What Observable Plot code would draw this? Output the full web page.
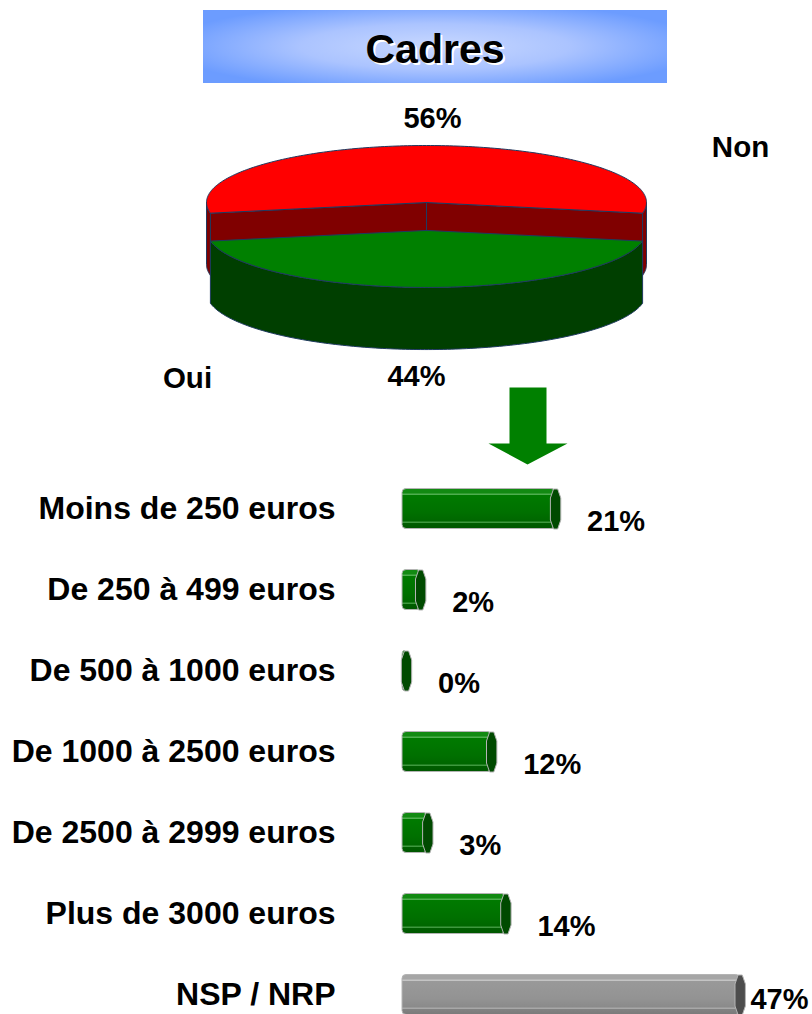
<!DOCTYPE html>
<html>
<head>
<meta charset="utf-8">
<script src="https://cdn.jsdelivr.net/npm/d3@7"></script>
<script src="https://cdn.jsdelivr.net/npm/@observablehq/plot@0.6"></script>
<style>
  body { margin: 0; background: #fff; font-family: "Liberation Sans", Arial, sans-serif; }
  #wrap { width: 812px; position: relative; }
  #titlebar { height: 90px; position: relative; }
  #titlebox {
    position: absolute; left: 203px; top: 10px; width: 464px; height: 73px;
    box-sizing: border-box; padding-top: 6px;
    background:
      radial-gradient(ellipse 58% 62% at 50% 50%, rgba(200,216,255,1) 0%, rgba(178,200,255,0.9) 50%, rgba(110,157,255,0) 100%),
      #6c9cff;
    display: flex; align-items: center; justify-content: center;
    font-weight: bold; font-size: 41px; color: #000;
    text-shadow: 2px 2px 0 #fff;
  }
  svg { display: block; }
</style>
</head>
<body>
<div id="wrap">
  <div id="titlebar"><div id="titlebox"></div></div>
  <div id="pie"></div>
  <div id="bars"></div>
</div>
<script>
// ---------------- data ----------------
const title = "Cadres";
const pieLabels = ["Non", "Oui"];
const pieShares = [56, 44];
const categories = [
  "Moins de 250 euros",
  "De 250 à 499 euros",
  "De 500 à 1000 euros",
  "De 1000 à 2500 euros",
  "De 2500 à 2999 euros",
  "Plus de 3000 euros",
  "NSP / NRP"
];
const values = [21, 2, 0, 12, 3, 14, 47];

document.getElementById("titlebox").textContent = title;

const FONT = '"Liberation Sans", Arial, sans-serif';

// ---------------- 3D pie ----------------
const T = 1.09;   // thickness (in units of the vertical radius)
const E = 0.49;   // explode offset of the front slice
const rad = a => a * Math.PI / 180;
const P = (a, dz) => ({x: Math.cos(rad(a)), y: -Math.sin(rad(a)) + dz});
function arc(a0, a1, dz) {
  const pts = [];
  const n = Math.max(1, Math.ceil(Math.abs(a1 - a0)));
  for (let i = 0; i <= n; i++) pts.push(P(a0 + (a1 - a0) * i / n, dz));
  return pts;
}
const total = d3.sum(pieShares);
const ouiSpan = pieShares[1] / total * 360;
const gStart = 270 - ouiSpan / 2, gEnd = 270 + ouiSpan / 2;
const nonMid = (gEnd + gStart + 360) / 2, ouiMid = 270;

const close = pts => [...pts, pts[0]];
const redRimL = close([...arc(180, gStart, 0), ...arc(gStart, 180, T)]);
const redRimR = close([...arc(gEnd, 360, 0), ...arc(360, gEnd, T)]);
const redCutA = close([{x: 0, y: 0}, P(gEnd, 0), P(gEnd, T), {x: 0, y: T}]);
const redCutB = close([{x: 0, y: 0}, P(gStart, 0), P(gStart, T), {x: 0, y: T}]);
const redTop = close([{x: 0, y: 0}, ...arc(gEnd, gStart + 360, 0)]);
const greenRim = close([...arc(gStart, gEnd, E), ...arc(gEnd, gStart, E + T)]);
const greenTop = close([{x: 0, y: E}, ...arc(gStart, gEnd, E)]);

const OUT = "#1f3a60";
const poly = (pts, fill) => Plot.line(pts, {x: "x", y: "y", fill, stroke: OUT, strokeWidth: 1, curve: "linear"});

// convert pixel layout to pie units (for decorations)
const CX = 426, CY = 112, RX = 220, RY = 57;
const u = (px, py) => ({x: (px - CX) / RX, y: (py - CY) / RY});
const arrow = close([u(509, 297), u(546, 297), u(546, 353), u(567, 353), u(527, 374), u(488, 353), u(509, 353)]);

const pctLabels = [
  {a: nonMid, v: pieShares[0], dx: 6},
  {a: ouiMid, v: pieShares[1], dx: -10}
].map(d => {
  const s = Math.sin(rad(d.a));
  return {x: Math.cos(rad(d.a)) + d.dx / RX, y: -s * 1.47 + (s < 0 ? E + T : 0), text: d.v + "%"};
});
const nameLabels = [
  {...u(740, 57), text: pieLabels[0]},
  {...u(187, 288), text: pieLabels[1]}
];

const pie = Plot.plot({
  width: 812, height: 380,
  x: {domain: [-1, 1], range: [CX - RX, CX + RX]},
  y: {domain: [-1, 1], range: [CY - RY, CY + RY]},
  axis: null,
  style: {fontFamily: FONT, background: "transparent"},
  marks: [
    poly(redCutA, "#800000"),
    poly(redCutB, "#800000"),
    poly(redRimL, "#800000"),
    poly(redRimR, "#800000"),
    poly(redTop, "#ff0000"),
    poly(greenRim, "#003f00"),
    poly(greenTop, "#008000"),
    Plot.line(arrow, {x: "x", y: "y", fill: "#008000", stroke: "none"}),
    Plot.text(pctLabels, {x: "x", y: "y", text: "text", fontSize: 29, fontWeight: "bold", fill: "black"}),
    Plot.text(nameLabels, {x: "x", y: "y", text: "text", fontSize: 29.5, fontWeight: "bold", fill: "black"})
  ]
});
document.getElementById("pie").appendChild(pie);

// ---------------- cylinder bars ----------------
const rows = categories.map((c, i) => ({cat: c, value: values[i], nsp: i === categories.length - 1}));
const greenRows = rows.filter(d => !d.nsp);
const grayRows = rows.filter(d => d.nsp);

function gradient(id, stops) {
  const g = document.createElementNS("http://www.w3.org/2000/svg", "linearGradient");
  g.setAttribute("id", id);
  g.setAttribute("x1", "0"); g.setAttribute("y1", "0");
  g.setAttribute("x2", "0"); g.setAttribute("y2", "1");
  for (const [o, c] of stops) {
    const s = document.createElementNS("http://www.w3.org/2000/svg", "stop");
    s.setAttribute("offset", o); s.setAttribute("stop-color", c);
    g.appendChild(s);
  }
  return g;
}
const defsMark = () => {
  const defs = document.createElementNS("http://www.w3.org/2000/svg", "defs");
  defs.appendChild(gradient("gGreen", [
    [0, "#128a12"], [0.12, "#128a12"], [0.13, "#4fae4f"], [0.16, "#4fae4f"], [0.17, "#007a00"],
    [0.6, "#007000"], [0.82, "#006600"], [0.83, "#3f983f"], [0.86, "#3f983f"], [0.87, "#005e00"], [1, "#005600"]
  ]));
  defs.appendChild(gradient("gGray", [
    [0, "#a6a6a6"], [0.12, "#a6a6a6"], [0.13, "#c4c4c4"], [0.16, "#c4c4c4"], [0.17, "#999999"],
    [0.6, "#939393"], [0.82, "#8a8a8a"], [0.83, "#a8a8a8"], [0.86, "#a8a8a8"], [0.87, "#828282"], [1, "#7a7a7a"]
  ]));
  return defs;
};

const capSymbol = {
  draw(ctx, size) {
    const r = Math.sqrt(size / Math.PI), w = r * 0.26;
    ctx.moveTo(-w * 0.4, -r); ctx.lineTo(w * 0.4, -r); ctx.lineTo(w, -r * 0.55);
    ctx.lineTo(w, r * 0.55); ctx.lineTo(w * 0.4, r); ctx.lineTo(-w * 0.4, r);
    ctx.lineTo(-w, r * 0.55); ctx.lineTo(-w, -r * 0.55); ctx.closePath();
  }
};

const barOpts = {x: "value", y: "cat", insetTop: 20.5, insetBottom: 20.5, insetRight: -4, rx: 4, stroke: "#b4b4b4", strokeWidth: 1};
const capOpts = {x: "value", y: "cat", symbol: capSymbol, r: 20, dx: 4, stroke: "#b4b4b4", strokeWidth: 1};
const valueText = {x: d => Math.min(d.value + 5, 49), y: "cat", text: d => d.value + "%", textAnchor: "start", fontSize: 29, fontWeight: "bold", fill: "black"};

const bars = Plot.plot({
  width: 812, height: 544,
  x: {domain: [0, 50], range: [402, 757]},
  y: {type: "band", domain: categories, range: [-2.5, 564.5], padding: 0},
  axis: null,
  style: {fontFamily: FONT, background: "transparent", overflow: "visible"},
  marks: [
    defsMark,
    Plot.barX(greenRows, {...barOpts, fill: "url(#gGreen)"}),
    Plot.barX(grayRows, {...barOpts, fill: "url(#gGray)"}),
    Plot.dot(greenRows, {...capOpts, fill: "#004a00"}),
    Plot.dot(grayRows, {...capOpts, fill: "#4d4d4d"}),
    Plot.text(rows, {x: d => 0, y: "cat", text: "cat", dx: -67, textAnchor: "end", fontSize: 32, fontWeight: "bold", fill: "black"}),
    Plot.text(greenRows, {...valueText, dy: 13}),
    Plot.text(grayRows, {...valueText, dy: 5})
  ]
});
document.getElementById("bars").appendChild(bars);
</script>
</body>
</html>
